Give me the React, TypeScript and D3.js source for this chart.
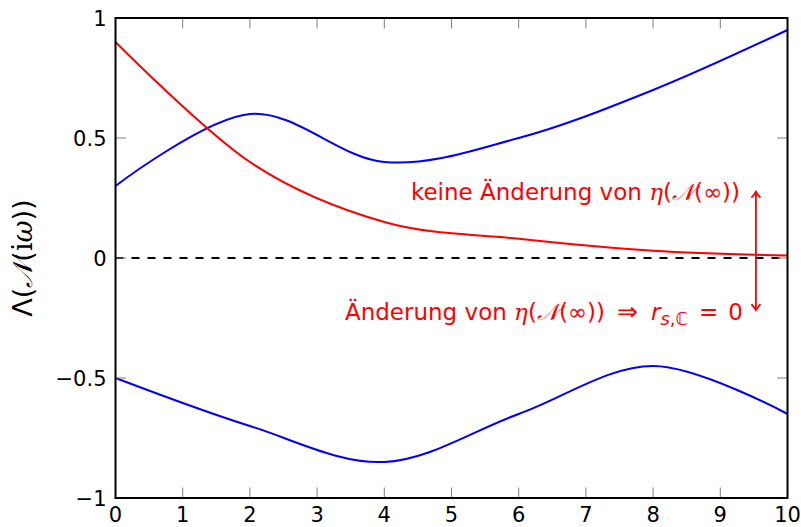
import React from "react";
import * as d3 from "d3";

const xValues = [0, 2, 4, 6, 8, 10];
const blueUpper = [0.3, 0.6, 0.4, 0.5, 0.7, 0.95];
const blueLower = [-0.5, -0.7, -0.85, -0.65, -0.45, -0.65];
const redCurve = [0.9, 0.4, 0.15, 0.08, 0.03, 0.01];
const xTicks = [0, 1, 2, 3, 4, 5, 6, 7, 8, 9, 10];
const yTicks = [-1, -0.5, 0, 0.5, 1];
const arrowX = 9.53;
const arrowTop = 0.276;
const arrowBottom = -0.217;

const W = 801;
const H = 527;
const FONT = "'DejaVu Sans', sans-serif";
const SERIF = "'DejaVu Serif', serif";

export default function App() {
  const x = d3.scaleLinear().domain([0, 10]).range([115.5, 787.5]);
  const y = d3.scaleLinear().domain([-1, 1]).range([498, 18]);
  const line = d3
    .line<number>()
    .x((_, i) => x(xValues[i]))
    .y((d) => y(d))
    .curve(d3.curveCardinal.tension(0));
  const fmt = (v: number) => (v < 0 ? "\u2212" + String(-v) : String(v));
  const tickLen = 10.5;
  const ax = x(arrowX);
  const at = y(arrowTop);
  const ab = y(arrowBottom);
  const head = (tipY: number, dir: number) =>
    `M${ax - 4.5},${tipY + dir * 6} Q${ax - 1},${tipY + dir * 2} ${ax},${tipY} Q${ax + 1},${tipY + dir * 2} ${ax + 4.5},${tipY + dir * 6}`;

  return (
    <svg
      width={W}
      height={H}
      style={{ position: "absolute", left: 0, top: 0, background: "#fff" }}
      fontFamily={FONT}
    >
      <rect x={0} y={0} width={W} height={H} fill="#fff" />
      <line
        x1={x(0)}
        x2={x(10)}
        y1={y(0)}
        y2={y(0)}
        stroke="#000"
        strokeWidth={1.8}
        strokeDasharray="8,8"
      />
      <path d={line(blueUpper) || ""} fill="none" stroke="#0000ff" strokeWidth={2} />
      <path d={line(blueLower) || ""} fill="none" stroke="#0000ff" strokeWidth={2} />
      <path d={line(redCurve) || ""} fill="none" stroke="#ff0000" strokeWidth={2} />
      <g stroke="#808080" strokeWidth={1}>
        {xTicks.map((t) => (
          <g key={"xt" + t}>
            <line x1={x(t)} x2={x(t)} y1={y(-1)} y2={y(-1) - tickLen} />
            <line x1={x(t)} x2={x(t)} y1={y(1)} y2={y(1) + tickLen} />
          </g>
        ))}
        {yTicks.map((t) => (
          <g key={"yt" + t}>
            <line x1={x(0)} x2={x(0) + tickLen} y1={y(t)} y2={y(t)} />
            <line x1={x(10)} x2={x(10) - tickLen} y1={y(t)} y2={y(t)} />
          </g>
        ))}
      </g>
      <rect
        x={x(0)}
        y={y(1)}
        width={x(10) - x(0)}
        height={y(-1) - y(1)}
        fill="none"
        stroke="#000"
        strokeWidth={2}
      />
      <g fontSize={21} fill="#000">
        {xTicks.map((t) => (
          <text key={"xl" + t} x={x(t)} y={y(-1) + 24} textAnchor="middle">
            {fmt(t)}
          </text>
        ))}
        {yTicks.map((t) => (
          <text key={"yl" + t} x={x(0) - 9} y={y(t) + 7.5} textAnchor="end">
            {fmt(t)}
          </text>
        ))}
      </g>
      <text
        transform={`translate(32,${y(0)}) rotate(-90)`}
        textAnchor="middle"
        fontSize={27}
        fill="#000"
      >
        Λ(<tspan fontFamily={SERIF} fontStyle="italic">𝒩</tspan>(
        <tspan fontFamily={SERIF}>i</tspan>
        <tspan fontFamily={SERIF} fontStyle="italic">ω</tspan>))
      </text>
      <g fill="#ff0000" fontSize={23}>
        <text x={740} y={200} textAnchor="end">
          keine Änderung von{" "}
          <tspan fontFamily={SERIF} fontStyle="italic">η</tspan>(
          <tspan fontFamily={SERIF} fontStyle="italic">𝒩</tspan>(∞))
        </text>
        <text x={743} y={320} textAnchor="end">
          <tspan>Änderung von </tspan>
          <tspan fontFamily={SERIF} fontStyle="italic">η</tspan>
          <tspan>(</tspan>
          <tspan fontFamily={SERIF} fontStyle="italic">𝒩</tspan>
          <tspan>(∞))</tspan>
          <tspan dx={12} fontSize={25}>⇒</tspan>
          <tspan dx={13} fontStyle="italic">r</tspan>
          <tspan fontSize={18} dy={5}>
            <tspan fontStyle="italic">s</tspan>
            <tspan>,ℂ</tspan>
          </tspan>
          <tspan dy={-5} dx={11}>=</tspan>
          <tspan dx={10}>0</tspan>
        </text>
      </g>
      <g stroke="#ff0000" strokeWidth={1.8} fill="none">
        <line x1={ax} x2={ax} y1={at + 1} y2={ab - 1} />
        <path d={head(at, 1)} />
        <path d={head(ab, -1)} />
      </g>
    </svg>
  );
}
